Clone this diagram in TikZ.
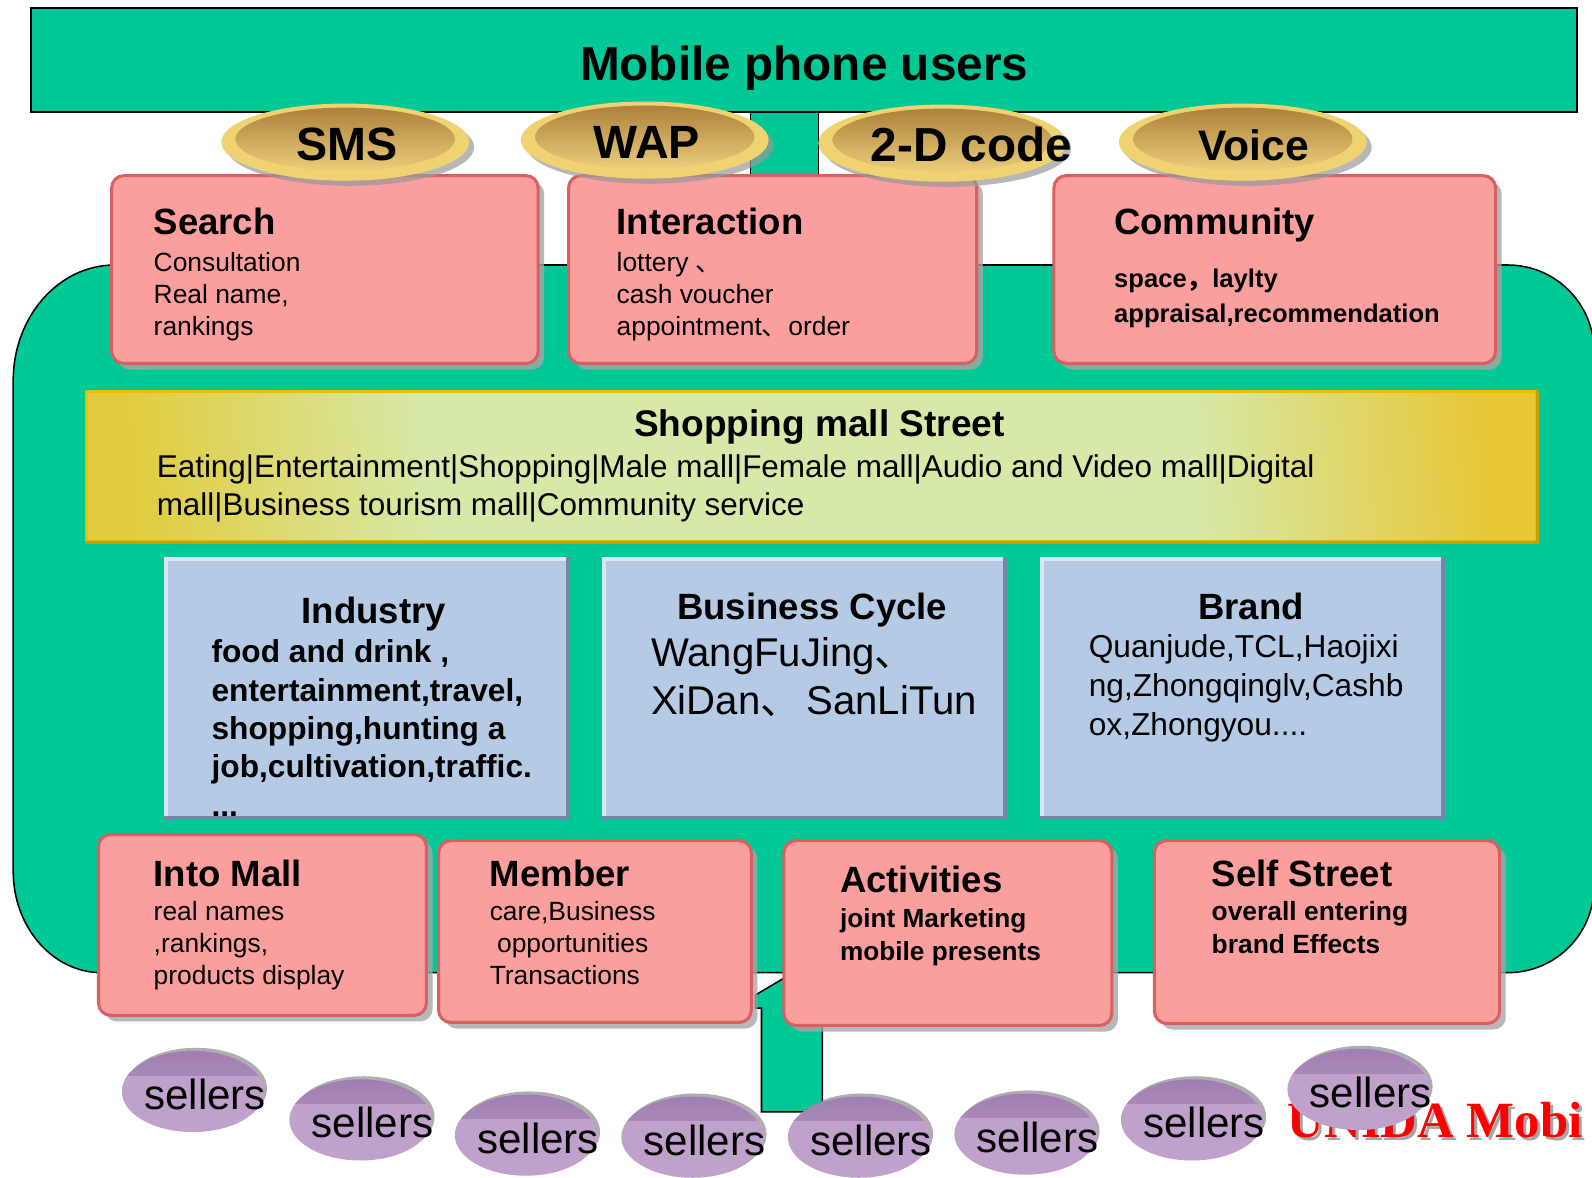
\documentclass[tikz,border=0pt]{standalone}
\usepackage{fontspec}
\setmainfont{Liberation Sans}
\newfontfamily\cjk{Noto Sans CJK SC}
\newfontfamily\redserif{Liberation Serif}
\usetikzlibrary{shapes.geometric,shadows,fit}
\definecolor{grn}{HTML}{00C896}
\definecolor{pinkfill}{HTML}{FA9E9E}
\definecolor{pinkedge}{HTML}{D96060}
\definecolor{bluefill}{HTML}{B4CAE5}
\definecolor{bluelight}{HTML}{DCE5F2}
\definecolor{bluedark}{HTML}{7686A6}
\definecolor{goldrim}{HTML}{EFD272}
\definecolor{goldtop}{HTML}{AA7C38}
\definecolor{goldbot}{HTML}{F4DA84}
\definecolor{purp}{HTML}{BFA1CB}
\definecolor{purpdark}{HTML}{A07EB2}
\definecolor{mallL}{HTML}{E2CC3E}
\definecolor{mallM}{HTML}{D6E9A8}
\definecolor{mallR}{HTML}{E8C634}
\definecolor{mallEdge}{HTML}{E8C000}
\definecolor{mallEdgeDark}{HTML}{C8A000}
\pgfdeclarehorizontalshading{mallsh}{100bp}{color(0bp)=(mallL); color(25bp)=(mallL); color(36bp)=(mallM); color(64bp)=(mallM); color(75bp)=(mallR); color(100bp)=(mallR)}
\newcommand\fsz[1]{\fontsize{#1}{#1}\selectfont}
\newcommand\Lines[2]{\vtop{\baselineskip=#1pt\lineskiplimit=-20pt\halign{##\hfil\cr#2\crcr}}}
\newcommand\bevel[1]{%
  \draw[line width=2pt, draw=bluelight] ([xshift=1pt]#1.south west) -- ([xshift=1pt,yshift=-1pt]#1.north west) -- ([yshift=-1pt]#1.north east);
  \draw[line width=2pt, draw=bluedark] ([xshift=-1pt]#1.north east) -- ([xshift=-1pt,yshift=1pt]#1.south east) -- ([yshift=1pt]#1.south west);}
\tikzset{
  gshape/.style={fill=grn, draw=black, line width=0.75pt},
  pinkbox/.style={inner sep=0, rounded corners=6pt, fill=pinkfill, draw=pinkedge, line width=1.5pt,
    drop shadow={shadow xshift=3pt, shadow yshift=-3pt, fill=black!35, opacity=.8}},
  bluebox/.style={inner sep=0, fill=bluefill},
  ttl/.style={inner sep=0, anchor=base west, font=\fsz{18}\bfseries},
  ctl/.style={inner sep=0, anchor=base, font=\fsz{18}\bfseries},
  txt/.style={inner sep=0, anchor=base west},
  goldell/.style={ellipse, minimum width=122pt, minimum height=38pt, inner sep=0, fill=goldrim,
    drop shadow={shadow xshift=2.5pt, shadow yshift=-2.5pt, fill=black!40, opacity=.7},
    path picture={\shade[top color=goldtop, bottom color=goldbot]
      ([yshift=1.5pt]path picture bounding box.center) ellipse [x radius=54pt, y radius=15.5pt];}},
  gtxt/.style={inner sep=0, anchor=base, font=\fsz{23}\bfseries},
  sellell/.style={ellipse, minimum width=70pt, minimum height=40pt, inner sep=0, fill=purp,
    drop shadow={shadow xshift=1.5pt, shadow yshift=1.5pt, fill=black!45, opacity=.7},
    path picture={\shade[top color=purpdark, bottom color=purp]
      (path picture bounding box.north west) rectangle ([yshift=-12pt]path picture bounding box.north east);}},
  stxt/.style={inner sep=0, font=\fsz{20.75}},
}
\begin{document}
\begin{tikzpicture}[x=0.5pt, y=-0.5pt]
\useasboundingbox (0,0) rectangle (1568,1160);
\clip (0,0) rectangle (1568,1160);

% big green area
\draw[gshape] (113,261) -- (1485,261) arc[start angle=-90, end angle=0, radius=85]
  -- (1570,873) arc[start angle=0, end angle=90, radius=85]
  -- (100,958) arc[start angle=90, end angle=180, x radius=87, y radius=100]
  -- (13,375) arc[start angle=180, end angle=270, x radius=100, y radius=114] -- cycle;
% connectors (green strips)
\fill[grn] (739,110) rectangle (806,262);
\draw[black, line width=0.75pt] (739,110) -- (739,262) (806,110) -- (806,262);
\draw[gshape] (744,993) -- (750,993) -- (750,1095) -- (810,1095) -- (810,941) -- (744,980) -- cycle;

% top box
\node[fit={(31,8)(1553,110)}, inner sep=0, fill=grn, draw=black, line width=1pt] (users) {};
\node[inner sep=0, anchor=base, font=\fsz{23.5}\bfseries] (usersT) at (792,79) {Mobile phone users};

% top pink boxes
\node[pinkbox, fit={(110,173)(530,358)}] (search) {};
\node[ttl] (searchT) at (151,231) {Search};
\node[txt, font=\fsz{13}] (searchB) at (151,267) {\Lines{15.75}{Consultation\cr Real name,\cr rankings}};

\node[pinkbox, fit={(560,173)(962,358)}] (inter) {};
\node[ttl] (interT) at (607,231) {Interaction};
\node[txt, font=\fsz{13}] (interB) at (607,267) {\Lines{15.75}{lottery {\cjk 、}\cr cash voucher\cr appointment{\cjk 、}order}};

\node[pinkbox, fit={(1038,173)(1473,358)}] (comm) {};
\node[ttl] (commT) at (1097,231) {Community};
\node[txt, font=\fsz{12.6}\bfseries] (commB) at (1097,283) {\Lines{17.5}{space{\cjk ，}laylty\cr appraisal,recommendation}};

% gold ellipses
\node[goldell] (sms) at (340,140) {};
\node[gtxt] (smsT) at (342,158) {SMS};
\node[goldell] (wap) at (635,138) {};
\node[gtxt] (wapT) at (637,156) {WAP};
\node[goldell] (code) at (928,141) {};
\node[gtxt, font=\fsz{23.5}\bfseries] (codeT) at (957,159) {2-D code};
\node[goldell] (voice) at (1224,140) {};
\node[gtxt, font=\fsz{21}\bfseries] (voiceT) at (1235,158) {Voice};

% shopping mall street
\node[fit={(85,386)(1513,533)}, inner sep=0, shading=mallsh, shading angle=4,
  draw=mallEdge, line width=1.5pt] (mall) {};
\draw[mallEdgeDark, line width=1.5pt] (mall.south west) -- (mall.south east) -- (mall.north east);
\node[inner sep=0, anchor=base, font=\fsz{18.25}\bfseries] (mallT) at (807,430) {Shopping mall Street};
\node[txt, font=\fsz{15.5}] (mallB) at (154,470) {\Lines{19}{Eating|Entertainment|Shopping|Male mall|Female mall|Audio and Video mall|Digital\cr mall|Business tourism mall|Community service}};

% blue boxes
\node[bluebox, fit={(162,549)(561,807)}] (ind) {};
\bevel{ind}
\node[ctl] (indT) at (368,614) {Industry};
\node[txt, font=\fsz{15.6}\bfseries] (indB) at (208,653) {\Lines{18.85}{food and drink ,\cr entertainment,travel,\cr shopping,hunting a\cr job,cultivation,traffic.\cr ...}};

\node[bluebox, fit={(593,549)(991,807)}] (biz) {};
\bevel{biz}
\node[ctl] (bizT) at (800,610) {Business Cycle};
\node[txt, font=\fsz{19.75}] (bizB) at (641,656) {\Lines{24}{WangFuJing{\cjk 、}\cr XiDan{\cjk 、}\hspace{-2.5pt} SanLiTun}};

\node[bluebox, fit={(1025,549)(1423,807)}] (brand) {};
\bevel{brand}
\node[ctl] (brandT) at (1232,610) {Brand};
\node[txt, font=\fsz{15.6}] (brandB) at (1072,648) {\Lines{19}{Quanjude,TCL,Haojixi\cr ng,Zhongqinglv,Cashb\cr ox,Zhongyou....}};

% bottom pink boxes
\node[pinkbox, fit={(97,822)(420,1000)}] (into) {};
\node[ttl] (intoT) at (151,873) {Into Mall};
\node[txt, font=\fsz{13}] (intoB) at (151,907) {\Lines{15.75}{real names\cr ,rankings,\cr products display}};

\node[pinkbox, fit={(432,828)(740,1007)}] (member) {};
\node[ttl] (memberT) at (482,873) {Member};
\node[txt, font=\fsz{13}] (memberB) at (482,907) {\Lines{15.75}{care,Business\cr \ opportunities\cr Transactions}};

\node[pinkbox, fit={(772,828)(1095,1010)}] (act) {};
\node[ttl] (actT) at (827,879) {Activities};
\node[txt, font=\fsz{12.9}\bfseries] (actB) at (827,914) {\Lines{16}{joint Marketing\cr mobile presents}};

\node[pinkbox, fit={(1137,828)(1477,1008)}] (self) {};
\node[ttl] (selfT) at (1193,873) {Self Street};
\node[txt, font=\fsz{13}\bfseries] (selfB) at (1193,907) {\Lines{16}{overall entering\cr brand Effects}};

% red caption
\node[txt, font=\redserif\bfseries\fsz{25}, text=black!35] (unidaS) at (1271,1123) {UNIDA Mobi};
\node[txt, font=\redserif\bfseries\fsz{25}, text=red] (unida) at (1268,1120) {UNIDA Mobi};

% sellers
\node[sellell] (s1) at (190,1075) {};
\node[stxt] (s1T) at ([xshift=6pt,yshift=-1.5pt]s1.center) {sellers};
\node[sellell] (s2) at (355,1103) {};
\node[stxt] (s2T) at ([xshift=6pt,yshift=-1.5pt]s2.center) {sellers};
\node[sellell] (s3) at (518,1118) {};
\node[stxt] (s3T) at ([xshift=6pt,yshift=-1.5pt]s3.center) {sellers};
\node[sellell] (s4) at (682,1120) {};
\node[stxt] (s4T) at ([xshift=6pt,yshift=-1.5pt]s4.center) {sellers};
\node[sellell] (s5) at (846,1120) {};
\node[stxt] (s5T) at ([xshift=6pt,yshift=-1.5pt]s5.center) {sellers};
\node[sellell] (s6) at (1010,1117) {};
\node[stxt] (s6T) at ([xshift=6pt,yshift=-1.5pt]s6.center) {sellers};
\node[sellell] (s7) at (1174,1103) {};
\node[stxt] (s7T) at ([xshift=6pt,yshift=-1.5pt]s7.center) {sellers};
\node[sellell] (s8) at (1338,1073) {};
\node[stxt] (s8T) at ([xshift=6pt,yshift=-1.5pt]s8.center) {sellers};
\end{tikzpicture}
\end{document}
